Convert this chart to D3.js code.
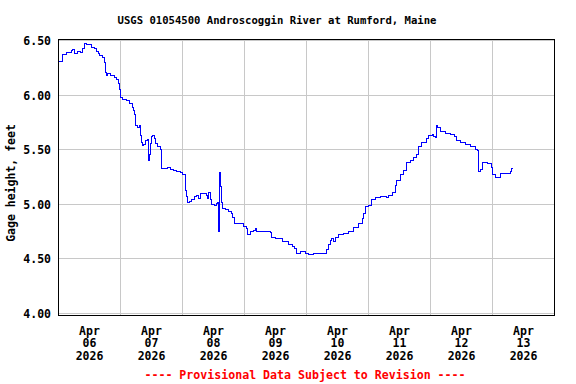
<!DOCTYPE html>
<html>
<head>
<meta charset="utf-8">
<script src="https://d3js.org/d3.v7.min.js"></script>
<style>
  body { margin: 0; background: #fff; }
  text { font-family: "DejaVu Sans Mono", monospace; font-weight: bold; }
</style>
</head>
<body>
<div id="gage_chart"></div>
<script>
// hours after Apr 06 2026 00:00 and gage height in feet
const hours = [0, 1.7, 3.0, 4.9, 5.6, 6.2, 7.5, 8.4, 9.2, 10.1, 10.7, 11.6, 12.7, 13.9, 14.6, 15.3, 15.9, 16.9, 17.8, 18.2,
  18.5, 19.1, 20.0, 21.1, 21.7, 22.6, 23.4, 23.6, 23.9, 24.9, 26.2, 27.3, 28.5, 29.0, 29.4, 29.7, 30.5, 31.4, 31.6, 32.0,
  32.4, 32.9, 33.7, 34.6, 34.8, 35.2, 35.5, 35.9, 36.4, 37.0, 37.7, 38.5, 39.4, 39.8, 40.0, 41.3, 42.0, 43.2, 44.5, 45.8,
  47.1, 48.0, 49.1, 49.3, 49.7, 49.9, 50.7, 51.6, 52.7, 53.6, 54.2, 54.9, 56.1, 57.1, 57.5, 58.1, 58.7, 59.4, 60.4, 61.3,
  61.7, 62.0, 62.2, 62.7, 63.0, 63.5, 64.5, 65.8, 66.9, 67.4, 68.1, 69.7, 71.6, 72.9, 73.3, 74.2, 75.5, 76.4, 76.8, 79.4,
  81.9, 82.3, 83.9, 85.8, 86.7, 87.8, 89.0, 90.4, 91.4, 92.3, 93.6, 95.5, 96.8, 98.7, 100.7, 103.0, 103.9, 104.5, 105.2, 105.8,
  106.3, 107.1, 108.4, 110.3, 112.3, 114.2, 116.1, 117.5, 118.1, 118.9, 120.0, 121.3, 122.6, 124.5, 125.8, 126.9, 127.8, 129.1, 130.4, 131.0,
  132.3, 133.6, 134.9, 136.2, 137.4, 138.7, 139.4, 140.7, 142.6, 143.3, 144.6, 145.2, 145.9, 146.3, 146.8, 147.8, 149.7, 151.7, 153.3, 153.9,
  155.6, 157.5, 159.5, 161.4, 162.0, 162.4, 163.3, 164.3, 165.9, 167.5, 168.0, 169.1, 171.0, 173.0, 174.9, 175.5, 175.9];
const gage = [6.31, 6.37, 6.39, 6.41, 6.42, 6.38, 6.40, 6.39, 6.43, 6.47, 6.46, 6.46, 6.44, 6.43, 6.40, 6.38, 6.36, 6.34, 6.30, 6.21,
  6.18, 6.20, 6.18, 6.18, 6.16, 6.14, 6.11, 6.05, 5.98, 5.96, 5.95, 5.92, 5.89, 5.86, 5.82, 5.72, 5.70, 5.72, 5.63, 5.57,
  5.54, 5.55, 5.58, 5.59, 5.40, 5.46, 5.56, 5.62, 5.63, 5.60, 5.56, 5.53, 5.50, 5.48, 5.33, 5.33, 5.34, 5.32, 5.31, 5.30,
  5.29, 5.27, 5.26, 5.13, 5.07, 5.02, 5.03, 5.04, 5.07, 5.08, 5.05, 5.10, 5.10, 5.08, 5.05, 5.11, 5.04, 5.00, 4.99, 5.01,
  5.02, 4.75, 5.29, 5.16, 5.02, 4.96, 4.95, 4.93, 4.92, 4.88, 4.82, 4.82, 4.80, 4.78, 4.72, 4.75, 4.76, 4.78, 4.75, 4.75,
  4.74, 4.70, 4.69, 4.69, 4.66, 4.66, 4.63, 4.61, 4.60, 4.55, 4.57, 4.55, 4.54, 4.55, 4.55, 4.55, 4.59, 4.63, 4.67, 4.69,
  4.66, 4.70, 4.72, 4.73, 4.75, 4.79, 4.82, 4.87, 4.92, 4.98, 4.99, 5.04, 5.06, 5.07, 5.07, 5.06, 5.08, 5.11, 5.17, 5.22,
  5.27, 5.31, 5.38, 5.40, 5.43, 5.46, 5.53, 5.57, 5.60, 5.63, 5.64, 5.62, 5.61, 5.72, 5.70, 5.67, 5.65, 5.64, 5.62, 5.58,
  5.57, 5.55, 5.53, 5.50, 5.49, 5.30, 5.32, 5.38, 5.37, 5.34, 5.27, 5.25, 5.28, 5.28, 5.30, 5.33, 5.33];
const yTicks = [4.0, 4.5, 5.0, 5.5, 6.0, 6.5];
const dayLabels = ["06", "07", "08", "09", "10", "11", "12", "13"];

const title = "USGS 01054500 Androscoggin River at Rumford, Maine";
const yTitle = "Gage height, feet";
const footer = "---- Provisional Data Subject to Revision ----";

const svg = d3.select("#gage_chart").append("svg")
    .attr("width", 576)
    .attr("height", 384);

const start = new Date(2026, 3, 6);
const end = new Date(2026, 3, 14);

const x = d3.scaleTime().domain([start, end]).range([58.5, 554.5]);
const y = d3.scaleLinear().domain([3.982, 6.509]).range([315.5, 39.5]);
const snap = v => Math.round(v - 0.5) + 0.5;

// grid
const days = d3.timeDay.range(d3.timeDay.offset(start, 1), end);
svg.append("g")
    .selectAll("line")
    .data(days)
    .join("line")
        .attr("x1", d => snap(x(d)))
        .attr("x2", d => snap(x(d)))
        .attr("y1", y.range()[0])
        .attr("y2", y.range()[1])
        .style("stroke", "#c8c8c8");
svg.append("g")
    .selectAll("line")
    .data(yTicks)
    .join("line")
        .attr("x1", x.range()[0])
        .attr("x2", x.range()[1])
        .attr("y1", d => snap(y(d)))
        .attr("y2", d => snap(y(d)))
        .style("stroke", "#c8c8c8");

// the series, stepped like the 15-minute record
const line = d3.line()
    .curve(d3.curveStepAfter)
    .x((d, i) => x(d3.timeMinute.offset(start, Math.round(hours[i] * 60))))
    .y(d => y(d));
svg.append("path")
    .datum(gage)
    .attr("d", line)
    .attr("shape-rendering", "crispEdges")
    .style("fill", "none")
    .style("stroke", "#0000ff")
    .style("stroke-width", 1);

// frame
svg.append("rect")
    .attr("x", x.range()[0])
    .attr("y", y.range()[1])
    .attr("width", x.range()[1] - x.range()[0])
    .attr("height", y.range()[0] - y.range()[1])
    .style("fill", "none")
    .style("stroke", "black");

// y tick labels
svg.append("g")
    .selectAll("text")
    .data(yTicks)
    .join("text")
        .attr("x", 51)
        .attr("y", d => snap(y(d)) + 4.5)
        .attr("text-anchor", "end")
        .style("font-size", "11.5px")
        .text(d => d.toFixed(2));

// x tick labels, at noon of each day
const xl = svg.append("g")
    .selectAll("text")
    .data(dayLabels)
    .join("text")
        .attr("x", (d, i) => x(d3.timeHour.offset(start, 24 * i + 12)))
        .attr("y", 334.5)
        .attr("text-anchor", "middle")
        .style("font-size", "11.5px");
xl.append("tspan").text("Apr");
xl.append("tspan").attr("x", (d, i) => x(d3.timeHour.offset(start, 24 * i + 12))).attr("dy", 12.7).text(d => d);
xl.append("tspan").attr("x", (d, i) => x(d3.timeHour.offset(start, 24 * i + 12))).attr("dy", 12.7).text("2026");

svg.append("text")
    .attr("x", 277)
    .attr("y", 24)
    .attr("text-anchor", "middle")
    .style("font-size", "10.6px")
    .text(title);

svg.append("text")
    .attr("transform", "translate(15,183) rotate(-90)")
    .attr("text-anchor", "middle")
    .style("font-size", "11.5px")
    .text(yTitle);

svg.append("text")
    .attr("x", 305)
    .attr("y", 378.5)
    .attr("text-anchor", "middle")
    .style("font-size", "11.6px")
    .style("fill", "#ff0000")
    .text(footer);
</script>
</body>
</html>
